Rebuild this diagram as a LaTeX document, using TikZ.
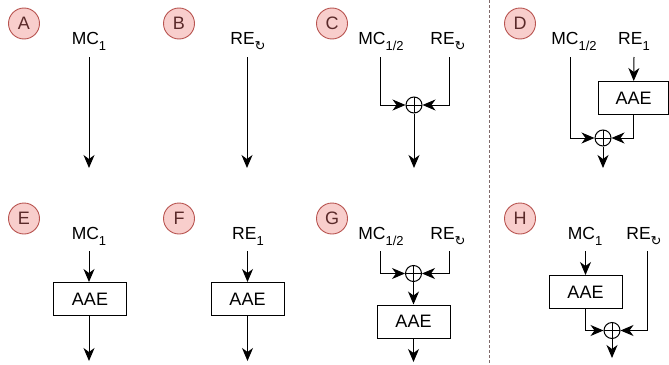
\documentclass[tikz,border=0pt]{standalone}
\usepackage{fontspec}
\setmainfont{Liberation Sans}
\newfontfamily\symfont{DejaVu Sans}
\usetikzlibrary{arrows.meta}
\definecolor{tagfill}{HTML}{F8CECC}
\definecolor{tagline}{HTML}{B85450}
\definecolor{tagtext}{HTML}{5A2A2A}
\definecolor{sepline}{HTML}{7F6A6A}
\newcommand\lsub[1]{\raisebox{-0.36em}{\fontsize{13}{13}\selectfont #1}}
\newcommand\rot{\lsub{\symfont\char"21BB}}
\tikzset{
  tag/.style={circle, draw=tagline, fill=tagfill, line width=0.9pt, minimum size=31pt,
    inner sep=0pt, text=tagtext, font=\fontsize{18}{18}\selectfont},
  lbl/.style={inner sep=0pt, anchor=base, font=\fontsize{17.5}{18}\selectfont},
  aae/.style={draw, line width=1pt, minimum width=73pt, minimum height=33pt, inner sep=0pt,
    font=\fontsize{18}{18}\selectfont},
  xr/.style={circle, draw, line width=1pt, minimum size=16pt, inner sep=0pt,
    path picture={\draw[line width=1pt] (path picture bounding box.north) -- (path picture bounding box.south)
      (path picture bounding box.west) -- (path picture bounding box.east);}},
  flow/.style={line width=1pt, -{Stealth[length=13pt,width=11pt,inset=4pt]}},
}
\begin{document}
\begin{tikzpicture}[x=1pt,y=-1pt]
    \useasboundingbox (0,0) rectangle (669,364);
    % panel tags
    \foreach \t/\x/\y in {A/24/23.5, B/179/23.5, C/332/23.5, D/520/23.5,
                          E/24/218.5, F/179/218.5, G/332/218.5, H/520/218.5}
        \node[tag] (tag\t) at (\x,\y) {\t};
    \draw[sepline, line width=1pt, dash pattern=on 3pt off 2pt] (489,0) -- (489,364);

    % A
    \node[lbl] (mcA) at (89,44.5) {MC\lsub{1}};
    \coordinate (a0) at (89,57); \coordinate (a1) at (89,168);
    \draw[flow] (a0) -- (a1);
    % B
    \node[lbl] (reB) at (248,44.5) {RE\rot};
    \coordinate (b0) at (247,57); \coordinate (b1) at (247,168);
    \draw[flow] (b0) -- (b1);
    % C
    \node[lbl] (mcC) at (381,44.5) {MC\lsub{1/2}};
    \node[lbl] (reC) at (448,44.5) {RE\rot};
    \node[xr] (xC) at (414,105) {};
    \coordinate (c0) at (380,57); \coordinate (c1) at (449,57); \coordinate (c2) at (414,168);
    \draw[flow] (c0) |- (xC.west);
    \draw[flow] (c1) |- (xC.east);
    \draw[flow] (xC) -- (c2);
    % D
    \node[lbl] (mcD) at (574,44.5) {MC\lsub{1/2}};
    \node[lbl] (reD) at (634,44.5) {RE\lsub{1}};
    \node[aae, minimum width=70pt] (boxD) at (633.5,98) {AAE};
    \node[xr] (xD) at (603,138) {};
    \coordinate (d0) at (570,57); \coordinate (d1) at (634,57); \coordinate (d2) at (603,168);
    \draw[flow] (d1) -- (boxD);
    \draw[flow] (d0) |- (xD.west);
    \draw[flow] (boxD.south) |- (xD.east);
    \draw[flow] (xD) -- (d2);

    % E
    \node[lbl] (mcE) at (89,239) {MC\lsub{1}};
    \node[aae] (boxE) at (90,299) {AAE};
    \coordinate (e0) at (89,251); \coordinate (e1) at (89,361);
    \draw[flow] (e0) -- (e0 |- boxE.north);
    \draw[flow] (boxE.south -| e0) -- (e1);
    % F
    \node[lbl] (reF) at (248,239) {RE\lsub{1}};
    \node[aae] (boxF) at (247.5,299) {AAE};
    \coordinate (f0) at (247.5,251); \coordinate (f1) at (247.5,361);
    \draw[flow] (f0) -- (boxF);
    \draw[flow] (boxF) -- (f1);
    % G
    \node[lbl] (mcG) at (381,239) {MC\lsub{1/2}};
    \node[lbl] (reG) at (448,239) {RE\rot};
    \node[xr] (xG) at (413.5,273.5) {};
    \node[aae] (boxG) at (413.5,321.5) {AAE};
    \coordinate (g0) at (380,251); \coordinate (g1) at (449,251); \coordinate (g2) at (413.5,362);
    \draw[flow] (g0) |- (xG.west);
    \draw[flow] (g1) |- (xG.east);
    \draw[flow] (xG) -- (boxG);
    \draw[flow] (boxG) -- (g2);
    % H
    \node[lbl] (mcH) at (585,239) {MC\lsub{1}};
    \node[lbl] (reH) at (644,239) {RE\rot};
    \node[aae] (boxH) at (585.5,292) {AAE};
    \node[xr] (xH) at (612,330.5) {};
    \coordinate (h0) at (585.5,251); \coordinate (h1) at (647,251); \coordinate (h2) at (612,358);
    \draw[flow] (h0) -- (boxH);
    \draw[flow] (boxH.south) |- (xH.west);
    \draw[flow] (h1) |- (xH.east);
    \draw[flow] (xH) -- (h2);
\end{tikzpicture}
\end{document}
